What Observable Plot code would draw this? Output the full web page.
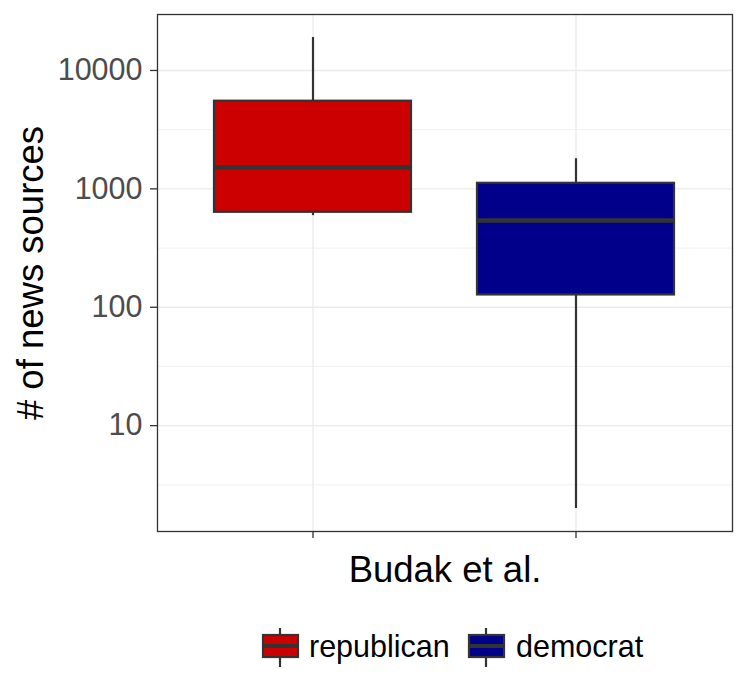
<!DOCTYPE html>
<html>
<head>
<meta charset="utf-8">
<script src="https://cdn.jsdelivr.net/npm/d3@7"></script>
<script src="https://cdn.jsdelivr.net/npm/@observablehq/plot@0.6"></script>
<style>
  body { margin: 0; background: #fff; font-family: "Liberation Sans", Arial, Helvetica, sans-serif; }
  #chart { width: 747px; }
  #legend { width: 747px; height: 100px; }
  #legend svg { display: block; }
</style>
</head>
<body>
<div id="chart"></div>
<div id="legend"></div>
<script>
// Data (values on log scale)
const groups = ["republican", "democrat"];
const lowerWhisker = [594, 2];
const lowerQuartile = [634, 127];
const medians = [1525, 540];
const upperQuartile = [5500, 1114];
const upperWhisker = [19000, 1795];
const groupColors = ["#CC0000", "#00008B"];
const yTicks = [10, 100, 1000, 10000];
const yMinorTicks = [3.1623, 31.623, 316.23, 3162.3];
const xLabel = "Budak et al.";
const yLabel = "# of news sources";

const rows = groups.map((g, i) => ({
  group: g,
  lo: lowerWhisker[i],
  q1: lowerQuartile[i],
  med: medians[i],
  q3: upperQuartile[i],
  hi: upperWhisker[i]
}));

const chart = Plot.plot({
  width: 747,
  height: 600,
  marginLeft: 157,
  marginRight: 15,
  marginTop: 14,
  marginBottom: 69,
  style: { fontFamily: "'Liberation Sans', Arial, Helvetica, sans-serif", background: "#fff" },
  x: { type: "band", domain: groups, paddingInner: 0.25, paddingOuter: 0.218, axis: null },
  y: { type: "log", domain: [1.276, 29700], axis: null },
  color: { domain: groups, range: groupColors },
  marks: [
    // grid
    Plot.ruleY(yMinorTicks, { stroke: "#EBEBEB", strokeWidth: 0.7 }),
    Plot.ruleY(yTicks, { stroke: "#EBEBEB", strokeWidth: 1.4 }),
    Plot.ruleX(groups, { x: d => d, stroke: "#EBEBEB", strokeWidth: 1.4 }),
    // whiskers
    Plot.ruleX(rows, { x: "group", y1: "lo", y2: "hi", stroke: "#333333", strokeWidth: 2.2 }),
    // boxes
    Plot.barY(rows, { x: "group", y1: "q1", y2: "q3", fill: "group", stroke: "#333333", strokeWidth: 2.2 }),
    // medians
    Plot.tickY(rows, { x: "group", y: "med", stroke: "#333333", strokeWidth: 4.5 }),
    // frame
    Plot.frame({ stroke: "#333333", strokeWidth: 1.3 }),
    // axes
    Plot.axisY(yTicks, {
      anchor: "left", tickSize: 7, tickPadding: 8, tickFormat: d => String(d),
      fontSize: 30.5, stroke: "#333333", strokeWidth: 1.3, fill: "#4D4D4D", label: null
    }),
    Plot.axisX(groups, {
      anchor: "bottom", tickSize: 7, tickFormat: () => "", stroke: "#333333", strokeWidth: 1.3, label: null
    }),
    // axis titles
    Plot.text([xLabel], {
      frameAnchor: "bottom", textAnchor: "middle", lineAnchor: "bottom", dy: 50,
      text: d => d, fontSize: 36.5, fill: "#000"
    }),
    Plot.text([yLabel], {
      frameAnchor: "left", textAnchor: "middle", lineAnchor: "bottom", rotate: -90, dx: -115,
      text: d => d, fontSize: 36.5, fill: "#000"
    })
  ]
});
document.getElementById("chart").appendChild(chart);

// Legend (below the SVG)
const keyLeft = [262, 468];
const textLeft = [309, 516];
const lsvg = d3.select("#legend").append("svg").attr("width", 747).attr("height", 100);
groups.forEach((g, i) => {
  const gk = lsvg.append("g").attr("transform", `translate(${keyLeft[i]},26)`);
  gk.append("line").attr("x1", 18).attr("x2", 18).attr("y1", 2).attr("y2", 41)
    .attr("stroke", "#333").attr("stroke-width", 2.2);
  gk.append("rect").attr("x", 1).attr("y", 9).attr("width", 35).attr("height", 22)
    .attr("fill", groupColors[i]).attr("stroke", "#333").attr("stroke-width", 2.2);
  gk.append("line").attr("x1", 1).attr("x2", 36).attr("y1", 20).attr("y2", 20)
    .attr("stroke", "#333").attr("stroke-width", 4);
  lsvg.append("text").attr("x", textLeft[i]).attr("y", 57)
    .attr("font-size", 30.5).attr("fill", "#000")
    .attr("font-family", "'Liberation Sans', Arial, Helvetica, sans-serif")
    .text(g);
});
</script>
</body>
</html>
